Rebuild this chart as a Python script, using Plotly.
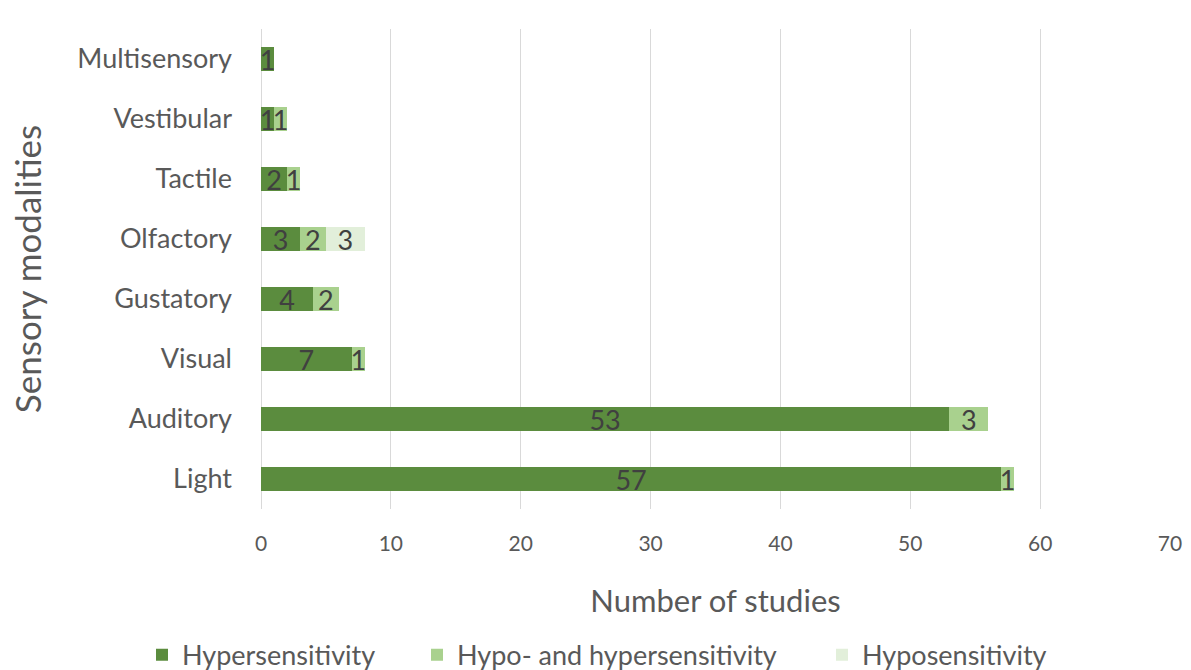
import plotly.graph_objects as go

# Sensory modalities (bottom to top) and study counts per sensitivity type
modalities = ["Light", "Auditory", "Visual", "Gustatory", "Olfactory",
              "Tactile", "Vestibular", "Multisensory"]
hyper = [57, 53, 7, 4, 3, 2, 1, 1]
hypo_and_hyper = [1, 3, 1, 2, 2, 1, 1, 0]
hypo = [0, 0, 0, 0, 3, 0, 0, 0]

series = [
    ("Hypersensitivity", hyper, "#5B8C3E", "legend"),
    ("Hypo- and hypersensitivity", hypo_and_hyper, "#A9D18E", "legend2"),
    ("Hyposensitivity", hypo, "#E2EFDA", "legend3"),
]

FONT = "Lato"
TEXT = "#595959"

fig = go.Figure()
for name, vals, color, leg in series:
    fig.add_trace(go.Bar(
        y=modalities,
        x=vals,
        name=name,
        orientation="h",
        legend=leg,
        marker=dict(color=color, line=dict(width=0)),
        text=[str(v) if v else "" for v in vals],
        textposition="inside",
        insidetextanchor="middle",
        textangle=0,
        textfont=dict(family=FONT, size=27, color="#404040"),
        width=0.4,
    ))


def legend_at(x_px):
    return dict(
        orientation="h",
        xref="container", yref="container",
        x=x_px / 1191, xanchor="left",
        y=0.022, yanchor="middle",
        font=dict(family=FONT, size=27, color=TEXT),
        itemwidth=30,
        bgcolor="rgba(0,0,0,0)",
    )


fig.update_layout(
    barmode="stack",
    width=1191,
    height=670,
    paper_bgcolor="white",
    plot_bgcolor="white",
    margin=dict(l=261, r=21, t=29, b=161, autoexpand=False),
    font=dict(family=FONT, color=TEXT),
    uniformtext=dict(minsize=27, mode="show"),
    showlegend=True,
    legend=legend_at(142),
    legend2=legend_at(417),
    legend3=legend_at(822),
    xaxis=dict(
        range=[0, 70],
        dtick=10,
        showgrid=True,
        gridcolor="#D9D9D9",
        gridwidth=1,
        zeroline=True,
        zerolinecolor="#D9D9D9",
        zerolinewidth=1,
        tickfont=dict(family=FONT, size=21, color=TEXT),
        ticklabelstandoff=20,
        title=dict(text="Number of studies", font=dict(family=FONT, size=31, color=TEXT),
                   standoff=36),
        fixedrange=True,
    ),
    yaxis=dict(
        categoryorder="array",
        categoryarray=modalities,
        showgrid=False,
        showline=False,
        tickfont=dict(family=FONT, size=27, color=TEXT),
        ticklabelstandoff=28,
        title=dict(text="Sensory modalities", font=dict(family=FONT, size=35, color=TEXT),
                   standoff=25),
    ),
)

fig.write_html("out.html")
